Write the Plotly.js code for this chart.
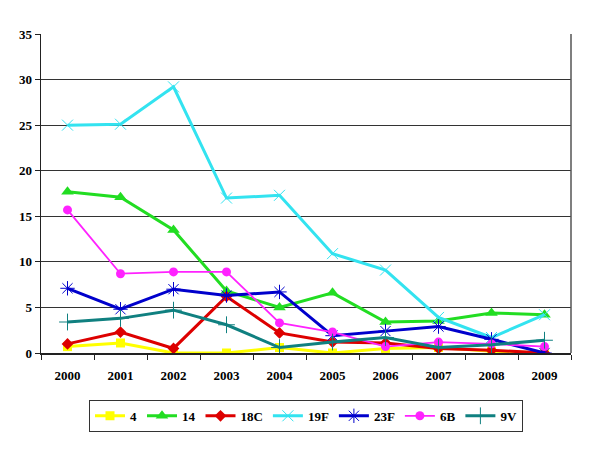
<!DOCTYPE html>
<html><head><meta charset="utf-8">
<script src="https://cdn.plot.ly/plotly-3.0.1.min.js"></script>
<style>body{margin:0;background:#fff}#chart{width:600px;height:450px}</style>
</head><body><div id="chart"></div>
<script>
const years = ["2000","2001","2002","2003","2004","2005","2006","2007","2008","2009"];
const s4   = [0.7, 1.1, 0.0, 0.0, 0.6, 0.0, 0.5, 0.6, 0.2, 0.0];
const s14  = [17.7, 17.1, 13.5, 6.8, 5.0, 6.6, 3.4, 3.5, 4.4, 4.2];
const s18C = [1.0, 2.3, 0.5, 6.2, 2.2, 1.2, 1.1, 0.5, 0.3, 0.0];
const s19F = [25.0, 25.1, 29.2, 17.0, 17.3, 10.9, 9.1, 3.9, 1.7, 4.2];
const s23F = [7.1, 4.8, 7.0, 6.3, 6.7, 1.9, 2.4, 2.9, 1.5, 0.0];
const s6B  = [15.7, 8.7, 8.9, 8.9, 3.3, 2.3, 0.7, 1.2, 1.0, 0.7];
const s9V  = [3.4, 3.8, 4.7, 3.1, 0.6, 1.2, 1.7, 0.6, 0.9, 1.4];
const names = ["4","14","18C","19F","23F","6B","9V"];
const values = [s4, s14, s18C, s19F, s23F, s6B, s9V];
const colors = ["#ffff00","#22dd22","#dd0000","#33e3f0","#0000cc","#ff22ff","#108080"];
const symbols = ["square","triangle-up","diamond","x-thin","asterisk","circle","cross-thin"];
const msizes = [9, 11, 9, 11, 12, 9, 12];
const lwidths = [3, 3, 3, 3, 3, 1.8, 3];

const traces = names.map((n,i)=>({
  x: years, y: values[i], name: n, type: "scatter", mode: "lines+markers",
  line: {color: colors[i], width: lwidths[i]},
  marker: {color: colors[i], symbol: symbols[i], size: msizes[i],
    line: {color: colors[i], width: (symbols[i].endsWith("thin")||symbols[i]==="asterisk") ? 1 : 0}}
}));

const FAM = "Liberation Serif, DejaVu Serif, serif";
const bold = {family: FAM, size: 13, color: "#000", weight: "bold"};
const layout = {
  width: 600, height: 450,
  margin: {l: 41, r: 29, t: 34, b: 97},
  paper_bgcolor: "#fff", plot_bgcolor: "#fff",
  font: bold,
  showlegend: true,
  xaxis: {type: "category", range: [-0.5, 9.5], showgrid: false, zeroline: false,
    showline: true, linecolor: "#222", linewidth: 1.5,
    ticks: "outside", tickson: "boundaries", ticklen: 5, tickcolor: "#222",
    ticklabelstandoff: 10, tickfont: bold},
  yaxis: {range: [0, 35], dtick: 5, showgrid: true, gridcolor: "#333", gridwidth: 1,
    zeroline: false, showline: true, linecolor: "#222", linewidth: 1.5,
    ticks: "outside", ticklen: 5, tickcolor: "#222", tickfont: bold},
  legend: {orientation: "h", x: 0.5, xanchor: "center", y: -0.197, yanchor: "middle",
    bordercolor: "#333", borderwidth: 1, bgcolor: "#fff",
    font: bold, itemwidth: 30, tracegroupgap: 0},
  shapes: [{type: "line", xref: "paper", yref: "paper", x0: 1, x1: 1, y0: 0, y1: 1,
    line: {color: "#555", width: 1.5}}]
};
Plotly.newPlot("chart", traces, layout, {displayModeBar: false, staticPlot: true});
</script></body></html>
